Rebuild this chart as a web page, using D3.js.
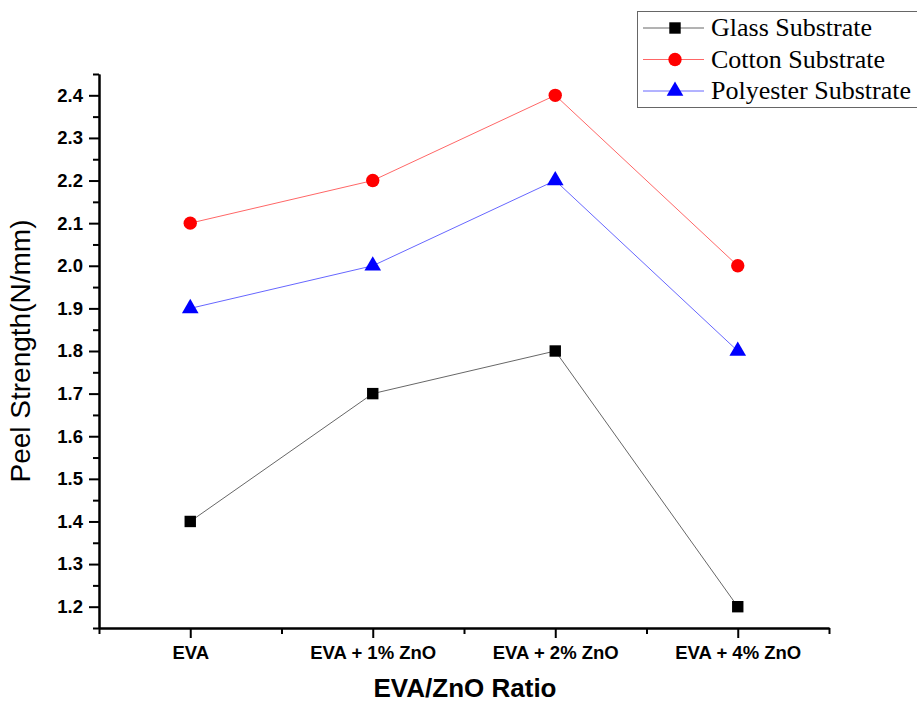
<!DOCTYPE html>
<html>
<head>
<meta charset="utf-8">
<script src="https://cdn.jsdelivr.net/npm/d3@7"></script>
<style>
  body { margin: 0; background: #fff; }
  svg { display: block; }
</style>
</head>
<body>
<script>
var categories = ["EVA", "EVA + 1% ZnO", "EVA + 2% ZnO", "EVA + 4% ZnO"];
var glass = [1.4, 1.7, 1.8, 1.2];
var cotton = [2.1, 2.2, 2.4, 2.0];
var polyester = [1.9, 2.0, 2.2, 1.8];
var yTicks = [1.2, 1.3, 1.4, 1.5, 1.6, 1.7, 1.8, 1.9, 2.0, 2.1, 2.2, 2.3, 2.4];

var seriesNames = ["Glass Substrate", "Cotton Substrate", "Polyester Substrate"];
var seriesColors = ["#000000", "#ff0000", "#0000ff"];
var seriesShapes = [d3.symbolSquare, d3.symbolCircle, d3.symbolTriangle];

var w = 917, h = 704;
var mLeft = 99, mRight = 829, mTop = 74, mBottom = 628;

var svg = d3.select("body").append("svg")
  .attr("width", w)
  .attr("height", h);

var x = d3.scaleLinear().domain([0.5, 4.5]).range([mLeft, mRight]);
var y = d3.scaleLinear().domain([1.15, 2.45]).range([mBottom, mTop]);

// minor ticks
var yMinor = d3.range(1.15, 2.46, 0.1);
var xMinor = [0.5, 1.5, 2.5, 3.5, 4.5];

var yAxis = d3.axisLeft(y).tickValues(yTicks).tickFormat(d3.format(".1f")).tickSize(10).tickSizeOuter(0);
var yAxisMinor = d3.axisLeft(y).tickValues(yMinor).tickFormat("").tickSize(6).tickSizeOuter(0);
var xAxis = d3.axisBottom(x).tickValues([1, 2, 3, 4]).tickFormat(function(d) { return categories[d - 1]; }).tickSize(10).tickSizeOuter(0);
var xAxisMinor = d3.axisBottom(x).tickValues(xMinor).tickFormat("").tickSize(6).tickSizeOuter(0);

function styleAxis(g) {
  g.selectAll("path, line").attr("stroke", "#000").attr("stroke-width", 2);
  g.selectAll("text")
    .attr("font-family", "Liberation Sans, Arial, sans-serif")
    .attr("font-weight", "bold")
    .attr("font-size", 18.5)
    .attr("fill", "#000");
}

svg.append("g").attr("transform", "translate(" + mLeft + ",0)").call(yAxisMinor).call(styleAxis);
svg.append("g").attr("transform", "translate(" + mLeft + ",0)").call(yAxis).call(styleAxis)
  .selectAll("text").attr("x", -16);
svg.append("g").attr("transform", "translate(0," + mBottom + ")").call(xAxisMinor).call(styleAxis);
svg.append("g").attr("transform", "translate(0," + mBottom + ")").call(xAxis).call(styleAxis)
  .selectAll("text").attr("y", 18);

// axis titles
svg.append("text")
  .attr("x", 465)
  .attr("y", 697)
  .attr("text-anchor", "middle")
  .attr("font-family", "Liberation Sans, Arial, sans-serif")
  .attr("font-weight", "bold")
  .attr("font-size", 26)
  .text("EVA/ZnO Ratio");

svg.append("text")
  .attr("transform", "translate(30," + 351 + ")rotate(-90)")
  .attr("text-anchor", "middle")
  .attr("font-family", "Liberation Sans, Arial, sans-serif")
  .attr("font-size", 28)
  .text("Peel Strength(N/mm)");

// series
var allSeries = [glass, cotton, polyester];
var line = d3.line()
  .x(function(d, i) { return x(i + 1); })
  .y(function(d) { return y(d); });

allSeries.forEach(function(vals, s) {
  svg.append("path")
    .datum(vals)
    .attr("d", line)
    .attr("fill", "none")
    .attr("stroke", seriesColors[s])
    .attr("stroke-opacity", 0.6)
    .attr("stroke-width", 1);
});

var sizes = [130, 140, 120];
allSeries.forEach(function(vals, s) {
  svg.append("g").selectAll("path")
    .data(vals)
    .enter().append("path")
      .attr("transform", function(d, i) { return "translate(" + x(i + 1) + "," + y(d) + ")"; })
      .attr("d", d3.symbol().type(seriesShapes[s]).size(sizes[s]))
      .attr("fill", seriesColors[s]);
});

// legend
var legend = svg.append("g");
legend.append("rect")
  .attr("x", 637.5).attr("y", 11.5)
  .attr("width", 300).attr("height", 96)
  .attr("fill", "#fff")
  .attr("stroke", "#666")
  .attr("stroke-width", 1);

seriesNames.forEach(function(name, s) {
  var ly = 28 + s * 31.5;
  legend.append("line")
    .attr("x1", 643).attr("x2", 704)
    .attr("y1", ly).attr("y2", ly)
    .attr("stroke", seriesColors[s])
    .attr("stroke-opacity", 0.6)
    .attr("stroke-width", 1);
  legend.append("path")
    .attr("transform", "translate(675," + ly + ")")
    .attr("d", d3.symbol().type(seriesShapes[s]).size(sizes[s]))
    .attr("fill", seriesColors[s]);
  legend.append("text")
    .attr("x", 711).attr("y", ly + 8)
    .attr("font-family", "Liberation Serif, Times New Roman, serif")
    .attr("font-size", 26)
    .text(name);
});
</script>
</body>
</html>
